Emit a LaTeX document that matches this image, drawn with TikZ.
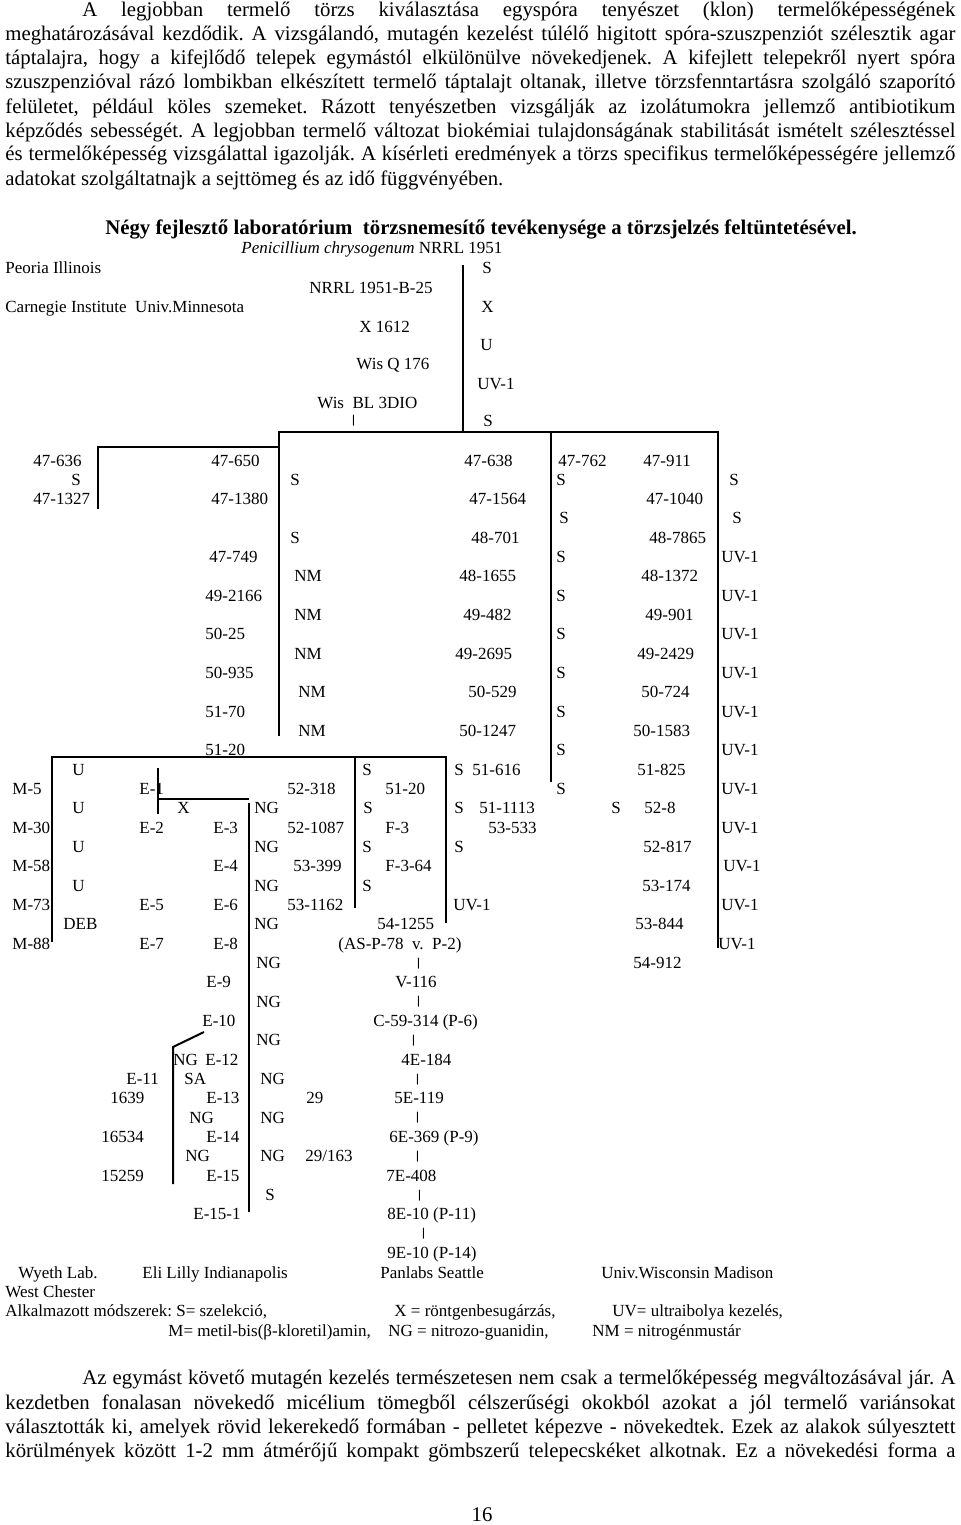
\documentclass[tikz,border=0pt]{standalone}
\usepackage{fontspec}
\usepackage{graphicx}
\setmainfont{Liberation Serif}
\newcommand{\vbr}{\raisebox{0.15em}{\scalebox{1.3}[0.7]{|}}}
\begin{document}
\frenchspacing
\begin{tikzpicture}[x=0.5pt,y=-0.5pt,
  lbl/.style={anchor=base west,inner sep=0pt,font=\fontsize{8.5}{10}\selectfont},
  body/.style={anchor=base west,inner sep=0pt,font=\fontsize{10.4}{12}\selectfont},
  rule/.style={line width=1pt}]
\useasboundingbox[fill=white] (0,0) rectangle (960,1525);
% ---------- top paragraph ----------
\node[body] (p1) at (82,17) {\makebox[436.5pt][s]{A legjobban termelő törzs kiválasztása egyspóra tenyészet (klon) termelőképességének}};
\node[body] (p2) at (5,41) {\makebox[475pt][s]{meghatározásával kezdődik. A vizsgálandó, mutagén kezelést túlélő higitott spóra-szuszpenziót szélesztik agar}};
\node[body] (p3) at (5,65) {\makebox[475pt][s]{táptalajra, hogy a kifejlődő telepek egymástól elkülönülve növekedjenek. A kifejlett telepekről nyert spóra}};
\node[body] (p4) at (5,89) {\makebox[475pt][s]{szuszpenzióval rázó lombikban elkészített termelő táptalajt oltanak, illetve törzsfenntartásra szolgáló szaporító}};
\node[body] (p5) at (5,113) {\makebox[475pt][s]{felületet, például köles szemeket. Rázott tenyészetben vizsgálják az izolátumokra jellemző antibiotikum}};
\node[body] (p6) at (5,137) {\makebox[475pt][s]{képződés sebességét. A legjobban termelő változat biokémiai tulajdonságának stabilitását ismételt szélesztéssel}};
\node[body] (p7) at (5,161) {\makebox[475pt][s]{és termelőképesség vizsgálattal igazolják. A kísérleti eredmények a törzs specifikus termelőképességére jellemző}};
\node[body] (p8) at (5,185) {adatokat szolgáltatnajk a sejttömeg és az idő függvényében.};
% ---------- title ----------
\node[anchor=base,inner sep=0pt,font=\bfseries\fontsize{10.4}{12}\selectfont] (title) at (481,234)
  {Négy fejlesztő laboratórium~~törzsnemesítő tevékenysége a törzsjelzés feltüntetésével.};
% ---------- top of tree ----------
\node[lbl] (h1) at (241,253) {\textit{Penicillium chrysogenum} NRRL 1951};
\node[lbl] (h2) at (5,273) {Peoria Illinois};
\node[lbl] (h3) at (482,273) {S};
\node[lbl] (h4) at (309,293) {NRRL 1951-B-25};
\node[lbl] (h5) at (5,312) {Carnegie Institute~~Univ.Minnesota};
\node[lbl] (h6) at (481,312) {X};
\node[lbl] (h7) at (359,332) {X 1612};
\node[lbl] (h8) at (480,350) {U};
\node[lbl] (h9) at (356,369) {Wis Q 176};
\node[lbl] (h10) at (477,389) {UV-1};
\node[lbl] (h11) at (317,408) {Wis~~BL 3DIO};
\node[lbl] (h12) at (351,426) {\vbr};
\node[lbl] (h13) at (483,426) {S};
% ---------- tree labels (x / row / text) ----------
\foreach \xx/\rr/\tt [count=\i] in {
 33/0/47-636, 211/0/47-650, 464/0/47-638, 558/0/47-762, 643/0/47-911,
 71/1/S, 290/1/S, 556/1/S, 729/1/S,
 33/2/47-1327, 211/2/47-1380, 469/2/47-1564, 646/2/47-1040,
 559/3/S, 732/3/S,
 290/4/S, 471/4/48-701, 649/4/48-7865,
 209/5/47-749, 556/5/S, 721/5/UV-1,
 294/6/NM, 459/6/48-1655, 641/6/48-1372,
 205/7/49-2166, 556/7/S, 721/7/UV-1,
 294/8/NM, 463/8/49-482, 645/8/49-901,
 205/9/50-25, 556/9/S, 721/9/UV-1,
 294/10/NM, 455/10/49-2695, 637/10/49-2429,
 205/11/50-935, 556/11/S, 721/11/UV-1,
 298/12/NM, 468/12/50-529, 641/12/50-724,
 205/13/51-70, 556/13/S, 721/13/UV-1,
 298/14/NM, 459/14/50-1247, 633/14/50-1583,
 205/15/51-20, 556/15/S, 721/15/UV-1,
 72/16/U, 362/16/S, 454/16/S, 472/16/51-616, 637/16/51-825,
 12/17/M-5, 139/17/E-1, 287/17/52-318, 385/17/51-20, 556/17/S, 721/17/UV-1,
 72/18/U, 177/18/X, 254/18/NG, 363/18/S, 454/18/S, 479/18/51-1113, 611/18/S, 644/18/52-8,
 12/19/M-30, 139/19/E-2, 213/19/E-3, 287/19/52-1087, 385/19/F-3, 488/19/53-533, 721/19/UV-1,
 72/20/U, 254/20/NG, 362/20/S, 454/20/S, 643/20/52-817,
 12/21/M-58, 213/21/E-4, 293/21/53-399, 385/21/F-3-64, 723/21/UV-1,
 72/22/U, 254/22/NG, 362/22/S, 642/22/53-174,
 12/23/M-73, 139/23/E-5, 213/23/E-6, 287/23/53-1162, 453/23/UV-1, 721/23/UV-1,
 63/24/DEB, 254/24/NG, 377/24/54-1255, 635/24/53-844,
 12/25/M-88, 139/25/E-7, 213/25/E-8, 338/25/(AS-P-78~~v.~~P-2), 718/25/UV-1,
 256/26/NG, 416/26/\vbr, 633/26/54-912,
 206/27/E-9, 395/27/V-116,
 256/28/NG, 416/28/\vbr,
 202/29/E-10, 373/29/C-59-314 (P-6),
 256/30/NG, 411/30/\vbr,
 173/31/NG, 205/31/E-12, 401/31/4E-184,
 126/32/E-11, 184/32/SA, 260/32/NG, 415/32/\vbr,
 110/33/1639, 206/33/E-13, 306/33/29, 394/33/5E-119,
 189/34/NG, 260/34/NG, 415/34/\vbr,
 101/35/16534, 206/35/E-14, 389/35/6E-369 (P-9),
 185/36/NG, 260/36/NG, 305/36/{29/163}, 415/36/\vbr,
 101/37/15259, 206/37/E-15, 386/37/7E-408,
 265/38/S, 417/38/\vbr,
 193/39/E-15-1, 387/39/8E-10 (P-11),
 421/40/\vbr,
 387/41/9E-10 (P-14)}
  \node[lbl] (t\i) at (\xx,{466+19.33*\rr}) {\tt};
% ---------- tree lines ----------
\draw[rule] (463,265) -- (463,432);
\draw[rule] (279,736) -- (279,432) -- (718,432) -- (718,948);
\draw[rule] (551,432) -- (551,782);
\draw[rule] (279,447) -- (98,447) -- (98,509);
\draw[rule] (52,942) -- (52,757) -- (446,757) -- (446,923);
\draw[rule] (355,757) -- (355,908);
\draw[rule] (158,768) -- (158,814);
\draw[rule] (158,799) -- (249,799);
\draw[rule] (249,803) -- (249,1212);
\draw[rule] (204,1032) -- (173,1047) -- (173,1184);
% ---------- labs and legend ----------
\node[lbl] (g1) at (18,1278) {Wyeth Lab.};
\node[lbl] (g2) at (142,1278) {Eli Lilly Indianapolis};
\node[lbl] (g3) at (380,1278) {Panlabs Seattle};
\node[lbl] (g4) at (601,1278) {Univ.Wisconsin Madison};
\node[lbl] (g5) at (5,1297) {West Chester};
\node[lbl] (g6) at (5,1316) {Alkalmazott módszerek: S= szelekció,};
\node[lbl] (g7) at (394,1316) {X = röntgenbesugárzás,};
\node[lbl] (g8) at (612,1316) {UV= ultraibolya kezelés,};
\node[lbl] (g9) at (168,1336) {M= metil-bis(β-kloretil)amin,};
\node[lbl] (g10) at (388,1336) {NG = nitrozo-guanidin,};
\node[lbl] (g11) at (592,1336) {NM = nitrogénmustár};
% ---------- bottom paragraph ----------
\node[body] (q1) at (82,1384) {\makebox[436.5pt][s]{Az egymást követő mutagén kezelés természetesen nem csak a termelőképesség megváltozásával jár. A}};
\node[body] (q2) at (5,1409) {\makebox[475pt][s]{kezdetben fonalasan növekedő micélium tömegből célszerűségi okokból azokat a jól termelő variánsokat}};
\node[body] (q3) at (5,1433) {\makebox[475pt][s]{választották ki, amelyek rövid lekerekedő formában - pelletet képezve - növekedtek. Ezek az alakok súlyesztett}};
\node[body] (q4) at (5,1457) {\makebox[475pt][s]{körülmények között 1-2 mm átmérőjű kompakt gömbszerű telepecskéket alkotnak. Ez a növekedési forma a}};
\node[anchor=base,inner sep=0pt,font=\fontsize{10.4}{12}\selectfont] (pg) at (482,1521) {16};
\end{tikzpicture}
\end{document}
